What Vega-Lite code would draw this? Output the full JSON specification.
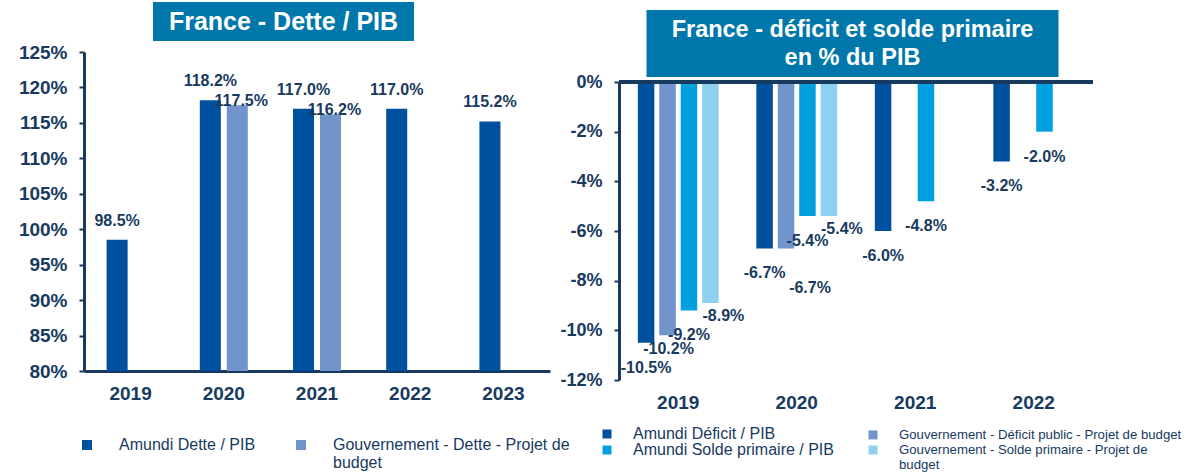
{
  "$schema": "https://vega.github.io/schema/vega-lite/v6.json",
  "background": "white",
  "padding": {"left": 18, "top": -1, "right": 0, "bottom": 0},
  "config": {
    "font": "Liberation Sans",
    "view": {"stroke": null},
    "axis": {"labelColor": "#173A5E", "labelFont": "Liberation Sans", "labelFontWeight": "bold", "labelFontSize": 19, "domainColor": "#173A5E", "domainWidth": 3, "tickColor": "#173A5E", "tickWidth": 2, "tickSize": 5, "grid": false},
    "legend": {"labelColor": "#173A5E", "labelFont": "Liberation Sans", "labelFontSize": 16, "symbolType": "square", "symbolStrokeWidth": 0},
    "text": {"font": "Liberation Sans"}
  },
  "spacing": -11,
  "resolve": {"scale": {"color": "independent", "xOffset": "independent"}, "legend": {"color": "independent"}},
  "hconcat": [
    {
      "spacing": 2,
      "center": true,
      "resolve": {"scale": {"color": "independent", "xOffset": "independent"}, "legend": {"color": "independent"}},
      "vconcat": [
        {
          "width": 261, "height": 39,
          "title": {"text": " ", "orient": "right", "fontSize": 4, "offset": 83},
          "view": {"fill": "#0077AA", "stroke": null},
          "data": {"values": [{}]},
          "mark": {"type": "text", "text": "France - Dette / PIB", "fontSize": 25, "fontWeight": "bold", "color": "#FFFFFF", "align": "center", "baseline": "middle"}
        },
        {
          "width": 466, "height": 319,
          "data": {"values": [
            {"year": "2019", "series": "Amundi Dette / PIB", "value": 98.5},
            {"year": "2020", "series": "Amundi Dette / PIB", "value": 118.2},
            {"year": "2020", "series": "Gouvernement - Dette - Projet de budget", "value": 117.5},
            {"year": "2021", "series": "Amundi Dette / PIB", "value": 117.0},
            {"year": "2021", "series": "Gouvernement - Dette - Projet de budget", "value": 116.2},
            {"year": "2022", "series": "Amundi Dette / PIB", "value": 117.0},
            {"year": "2023", "series": "Amundi Dette / PIB", "value": 115.2}
          ]},
          "encoding": {
            "x": {"field": "year", "type": "nominal", "scale": {"paddingInner": 0.485, "paddingOuter": 0.2425}, "axis": {"title": null, "labelAngle": 0, "ticks": false, "labelPadding": 13}},
            "xOffset": {"field": "series", "type": "nominal", "scale": {"domain": ["Amundi Dette / PIB", "Gouvernement - Dette - Projet de budget"], "paddingInner": 0.22}},
            "y": {"field": "value", "type": "quantitative", "scale": {"domain": [80, 125], "nice": false, "zero": false}, "axis": {"title": null, "values": [80, 85, 90, 95, 100, 105, 110, 115, 120, 125], "labelExpr": "datum.value + '%'", "labelPadding": 12}}
          },
          "layer": [
            {
              "mark": {"type": "bar"},
              "encoding": {
                "y2": {"datum": 80},
                "color": {
                  "field": "series", "type": "nominal",
                  "scale": {"domain": ["Amundi Dette / PIB", "Gouvernement - Dette - Projet de budget"], "range": ["#0050A0", "#7094CB"]},
                  "legend": {
                    "title": null, "orient": "none", "legendX": -5, "legendY": 385,
                    "direction": "horizontal", "columns": 2, "columnPadding": 37,
                    "labelOffset": 24, "symbolSize": 100, "labelLimit": 400,
                    "labelExpr": "datum.label == 'Gouvernement - Dette - Projet de budget' ? ['Gouvernement - Dette - Projet de', 'budget'] : [datum.label, ' ']"
                  }
                }
              }
            },
            {
              "transform": [{"filter": "datum.series == 'Amundi Dette / PIB'"}],
              "mark": {"type": "text", "text": {"expr": "format(datum.value, '.1f') + '%'"}, "fontSize": 16, "fontWeight": "bold", "color": "#173A5E", "baseline": "middle", "dy": -19}
            },
            {
              "transform": [{"filter": "datum.series != 'Amundi Dette / PIB'"}],
              "mark": {"type": "text", "text": {"expr": "format(datum.value, '.1f') + '%'"}, "fontSize": 16, "fontWeight": "bold", "color": "#173A5E", "baseline": "middle", "dy": -4.5, "dx": 4}
            }
          ]
        }
      ]
    },
    {
      "spacing": -4,
      "center": true,
      "resolve": {"scale": {"color": "independent", "xOffset": "independent"}, "legend": {"color": "independent"}},
      "vconcat": [
        {
          "width": 10, "height": 6,
          "data": {"values": [{}]},
          "mark": {"type": "text", "text": ""}
        },
        {
          "width": 412, "height": 67,
          "title": {"text": " ", "orient": "right", "fontSize": 4, "offset": 92},
          "view": {"fill": "#0077AA", "stroke": null},
          "data": {"values": [{}]},
          "mark": {"type": "text", "text": ["France - déficit et solde primaire", "en % du PIB"], "fontSize": 23.5, "fontWeight": "bold", "color": "#FFFFFF", "align": "center", "baseline": "middle", "lineHeight": 28, "dy": -14}
        },
        {
          "width": 474, "height": 298,
          "data": {"values": [
            {"year": "2019", "series": "Amundi Déficit / PIB", "value": -10.5},
            {"year": "2019", "series": "Gouvernement - Déficit public - Projet de budget", "value": -10.2},
            {"year": "2019", "series": "Amundi Solde primaire / PIB", "value": -9.2},
            {"year": "2019", "series": "Gouvernement - Solde primaire - Projet de budget", "value": -8.9},
            {"year": "2020", "series": "Amundi Déficit / PIB", "value": -6.7},
            {"year": "2020", "series": "Gouvernement - Déficit public - Projet de budget", "value": -6.7},
            {"year": "2020", "series": "Amundi Solde primaire / PIB", "value": -5.4},
            {"year": "2020", "series": "Gouvernement - Solde primaire - Projet de budget", "value": -5.4},
            {"year": "2021", "series": "Amundi Déficit / PIB", "value": -6.0},
            {"year": "2021", "series": "Amundi Solde primaire / PIB", "value": -4.8},
            {"year": "2022", "series": "Amundi Déficit / PIB", "value": -3.2},
            {"year": "2022", "series": "Amundi Solde primaire / PIB", "value": -2.0}
          ]},
          "encoding": {
            "x": {"field": "year", "type": "nominal", "scale": {"paddingInner": 0.318, "paddingOuter": 0.159}, "axis": {"title": null, "orient": "bottom", "labelAngle": 0, "domain": false, "ticks": false, "labelPadding": 13}},
            "xOffset": {"field": "series", "type": "nominal", "scale": {"domain": ["Amundi Déficit / PIB", "Gouvernement - Déficit public - Projet de budget", "Amundi Solde primaire / PIB", "Gouvernement - Solde primaire - Projet de budget"], "paddingInner": 0.23}},
            "y": {"field": "value", "type": "quantitative", "scale": {"domain": [-12, 0], "nice": false}, "axis": {"title": null, "values": [-12, -10, -8, -6, -4, -2, 0], "labelExpr": "datum.value + '%'", "labelPadding": 12, "labelFontSize": 18}}
          },
          "layer": [
            {
              "mark": {"type": "bar"},
              "encoding": {
                "color": {
                  "field": "series", "type": "nominal",
                  "scale": {"domain": ["Amundi Déficit / PIB", "Amundi Solde primaire / PIB", "Gouvernement - Déficit public - Projet de budget", "Gouvernement - Solde primaire - Projet de budget"], "range": ["#0050A0", "#00A0E0", "#7094CB", "#8DD0F0"]},
                  "legend": {
                    "title": null, "orient": "none", "legendX": -20, "legendY": 344,
                    "columns": 2, "columnPadding": 31, "rowPadding": 0,
                    "labelOffset": 18, "symbolSize": 81, "labelLimit": 400,
                    "labelExpr": "datum.label == 'Gouvernement - Solde primaire - Projet de budget' ? ['Gouvernement - Solde primaire - Projet de', 'budget'] : datum.label",
                    "encode": {"labels": {"update": {"fontSize": {"signal": "test(/^Gouv/, datum.label) ? 13.2 : 16"}}}}
                  }
                }
              }
            },
            {
              "mark": {"type": "rule", "color": "#173A5E", "strokeWidth": 3},
              "encoding": {"y": {"datum": 0}, "x": null, "xOffset": null}
            },
            {
              "transform": [{"filter": "indexof(datum.series, 'Amundi') == 0"}],
              "mark": {"type": "text", "text": {"expr": "(datum.value < 0 ? '-' : '') + format(abs(datum.value), '.1f') + '%'"}, "fontSize": 16, "fontWeight": "bold", "color": "#173A5E", "baseline": "middle", "dy": 25}
            },
            {
              "transform": [{"filter": "datum.series == 'Gouvernement - Déficit public - Projet de budget' && datum.year != '2020'"}],
              "mark": {"type": "text", "text": {"expr": "(datum.value < 0 ? '-' : '') + format(abs(datum.value), '.1f') + '%'"}, "fontSize": 16, "fontWeight": "bold", "color": "#173A5E", "baseline": "middle", "dy": 14, "dx": 1}
            },
            {
              "transform": [{"filter": "datum.series == 'Gouvernement - Déficit public - Projet de budget' && datum.year == '2020'"}],
              "mark": {"type": "text", "text": {"expr": "(datum.value < 0 ? '-' : '') + format(abs(datum.value), '.1f') + '%'"}, "fontSize": 16, "fontWeight": "bold", "color": "#173A5E", "baseline": "middle", "dy": 40, "dx": 24}
            },
            {
              "transform": [{"filter": "datum.series == 'Gouvernement - Solde primaire - Projet de budget'"}],
              "mark": {"type": "text", "text": {"expr": "(datum.value < 0 ? '-' : '') + format(abs(datum.value), '.1f') + '%'"}, "fontSize": 16, "fontWeight": "bold", "color": "#173A5E", "baseline": "middle", "dy": 13, "dx": 13}
            }
          ]
        }
      ]
    }
  ]
}
